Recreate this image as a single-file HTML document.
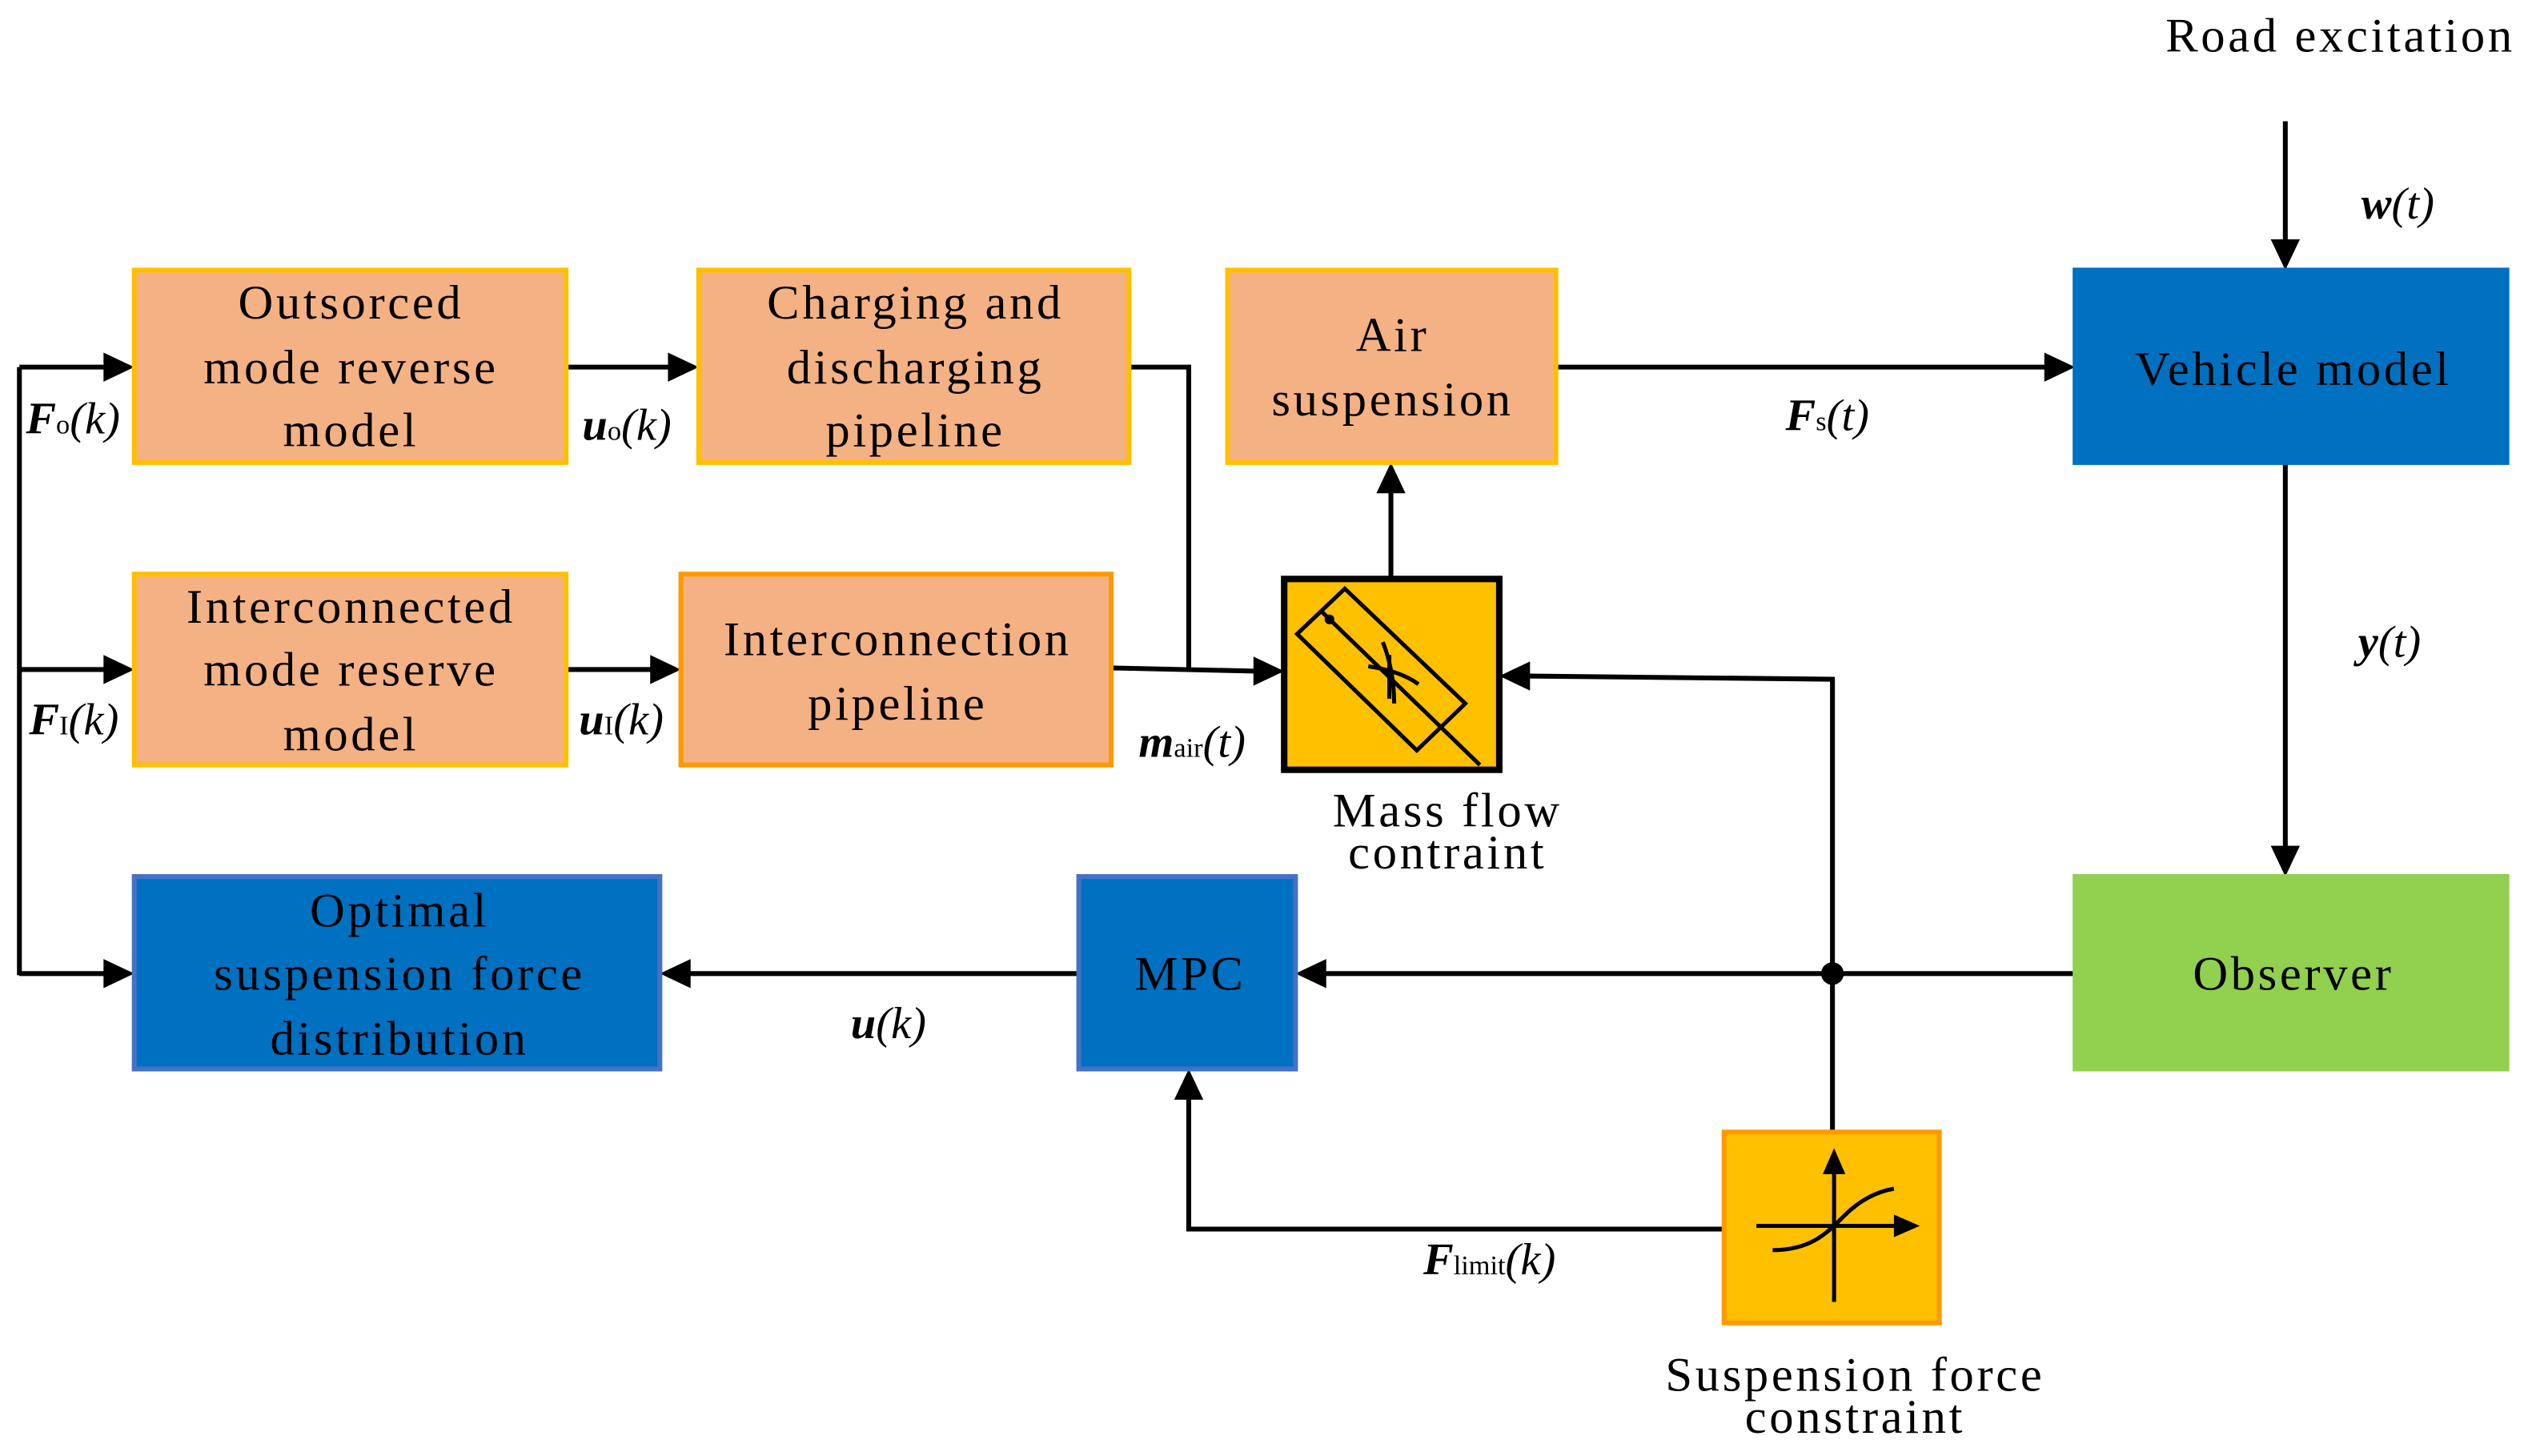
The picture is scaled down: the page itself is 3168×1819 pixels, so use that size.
<!DOCTYPE html>
<html><head><meta charset="utf-8"><style>
html,body{margin:0;padding:0;background:#fff;}
svg{display:block;}
text{font-family:"Liberation Serif",serif;fill:#000;}
.t{font-size:30px;text-anchor:middle;letter-spacing:1.8px;}
.m{font-size:28px;font-style:italic;}
.b{font-weight:bold;}
.s{font-size:17px;font-style:normal;font-weight:normal;}
</style></head><body>
<svg width="3168" height="1819" viewBox="0 0 1568 900.3" xmlns="http://www.w3.org/2000/svg">
<g stroke="#000" stroke-width="3" fill="none">
<line x1="12" y1="227" x2="12" y2="603"/>
<line x1="12" y1="227" x2="66" y2="227"/>
<line x1="12" y1="414" x2="66" y2="414"/>
<line x1="12" y1="602" x2="66" y2="602"/>
<line x1="350" y1="227" x2="415" y2="227"/>
<line x1="350" y1="414" x2="404" y2="414"/>
<polyline points="698,227 735,227 735,414"/>
<line x1="687" y1="413" x2="777" y2="415"/>
<line x1="860" y1="358" x2="860" y2="303"/>
<line x1="962" y1="227" x2="1266" y2="227"/>
<line x1="1413" y1="75" x2="1413" y2="150"/>
<line x1="1413" y1="286" x2="1413" y2="525"/>
<line x1="1283" y1="602" x2="818" y2="602"/>
<polyline points="1133,700 1133,420 944,418"/>
<polyline points="1066,760 735,760 735,678"/>
<line x1="667" y1="602" x2="425" y2="602"/>
</g>
<g fill="#000">
<polygon points="83,227 64,218 64,236"/>
<polygon points="83,414 64,405 64,423"/>
<polygon points="83,602 64,593 64,611"/>
<polygon points="432,227 413,218 413,236"/>
<polygon points="421,414 402,405 402,423"/>
<polygon points="794,415 775,406 775,424"/>
<polygon points="860,286 851,305 869,305"/>
<polygon points="1283,227 1264,218 1264,236"/>
<polygon points="1413,167 1404,148 1422,148"/>
<polygon points="1413,542 1404,523 1422,523"/>
<polygon points="801,602 820,593 820,611"/>
<polygon points="927,418 946,409 946,427"/>
<polygon points="735,661 726,680 744,680"/>
<polygon points="408,602 427,593 427,611"/>
<circle cx="1133" cy="602" r="7"/>
</g>
<g stroke-width="3">
<rect x="83" y="167" width="267" height="119" fill="#F4B183" stroke="#FFC000"/>
<rect x="432" y="167" width="266" height="119" fill="#F4B183" stroke="#FFC000"/>
<rect x="759" y="167" width="203" height="119" fill="#F4B183" stroke="#FFC000"/>
<rect x="1283" y="167" width="267" height="119" fill="#0070C0" stroke="#0070C0"/>
<rect x="83" y="355" width="267" height="118" fill="#F4B183" stroke="#FFC000"/>
<rect x="421" y="355" width="266" height="118" fill="#F4B183" stroke="#FF9900"/>
<rect x="83" y="542" width="325" height="119" fill="#0070C0" stroke="#4472C4"/>
<rect x="667" y="542" width="134" height="119" fill="#0070C0" stroke="#4472C4"/>
<rect x="1283" y="542" width="267" height="119" fill="#92D050" stroke="#92D050"/>
<rect x="1066" y="700" width="133" height="118" fill="#FFC000" stroke="#FF9900"/>
<rect x="794" y="358" width="133" height="118" fill="#FFC000" stroke="#000" stroke-width="4"/>
</g>
<g stroke="#000" stroke-width="2.5" fill="none">
<polygon points="831.5,364 802,392 876,464 906,435"/>
<line x1="817" y1="378" x2="915" y2="473"/>
<path d="M846,412 Q866,415 877,423"/>
<path d="M855,397 Q862,415 862,435"/>
<line x1="859" y1="405" x2="859" y2="432"/>
</g>
<circle cx="822" cy="383" r="3" fill="#000"/>
<g stroke="#000" stroke-width="2.5" fill="none">
<line x1="1134" y1="805" x2="1134" y2="722"/>
<line x1="1086" y1="758" x2="1175" y2="758"/>
<path d="M1096,773 C1120,773 1130,762 1140,752 C1150,742 1160,737 1171,735"/>
</g>
<polygon points="1134,710 1127,726 1141,726" fill="#000"/>
<polygon points="1187,758 1171,751 1171,765" fill="#000"/>
<g>
<text x="217" y="197" class="t">Outsorced</text>
<text x="217" y="237" class="t">mode reverse</text>
<text x="217" y="276" class="t">model</text>
<text x="566" y="197" class="t">Charging and</text>
<text x="566" y="237" class="t">discharging</text>
<text x="566" y="276" class="t">pipeline</text>
<text x="861" y="217" class="t">Air</text>
<text x="861" y="257" class="t">suspension</text>
<text x="1418" y="238" class="t">Vehicle model</text>
<text x="217" y="385" class="t">Interconnected</text>
<text x="217" y="424" class="t">mode reserve</text>
<text x="217" y="464" class="t">model</text>
<text x="555" y="405" class="t">Interconnection</text>
<text x="555" y="445" class="t">pipeline</text>
<text x="247" y="573" class="t">Optimal</text>
<text x="247" y="612" class="t">suspension force</text>
<text x="247" y="652" class="t">distribution</text>
<text x="736" y="612" class="t">MPC</text>
<text x="1418" y="612" class="t">Observer</text>
<text x="895" y="511" class="t">Mass flow</text>
<text x="895" y="537" class="t">contraint</text>
<text x="1147" y="860" class="t">Suspension force</text>
<text x="1147" y="886" class="t">constraint</text>
<text x="1447" y="32" class="t">Road excitation</text>
</g>
<text x="16" y="268" class="m"><tspan class="b">F</tspan><tspan class="s">o</tspan>(k)</text>
<text x="18" y="454" class="m"><tspan class="b">F</tspan><tspan class="s">I</tspan>(k)</text>
<text x="360" y="272" class="m"><tspan class="b">u</tspan><tspan class="s">o</tspan>(k)</text>
<text x="358" y="454" class="m"><tspan class="b">u</tspan><tspan class="s">I</tspan>(k)</text>
<text x="704" y="468" class="m"><tspan class="b">m</tspan><tspan class="s">air</tspan>(t)</text>
<text x="1104" y="266" class="m"><tspan class="b">F</tspan><tspan class="s">s</tspan>(t)</text>
<text x="1460" y="135" class="m"><tspan class="b">w</tspan>(t)</text>
<text x="1458" y="406" class="m"><tspan class="b">y</tspan>(t)</text>
<text x="526" y="642" class="m"><tspan class="b">u</tspan>(k)</text>
<text x="880" y="788" class="m"><tspan class="b">F</tspan><tspan class="s">limit</tspan>(k)</text>
</svg>
</body></html>
